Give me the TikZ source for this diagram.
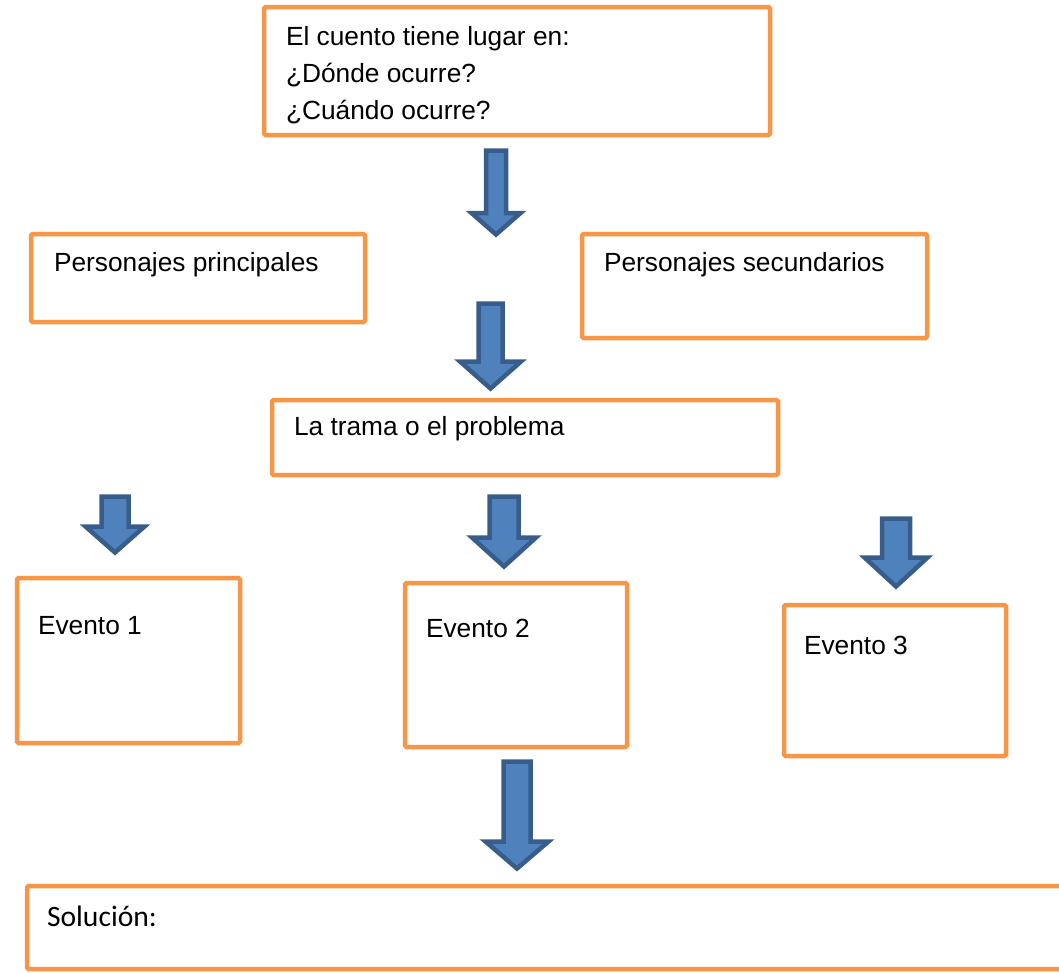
\documentclass[tikz,border=0pt]{standalone}
\usepackage{fontspec}
\setmainfont{Liberation Sans}
\newfontfamily\carlitofont{Carlito}
\definecolor{boxorange}{HTML}{F79646}
\definecolor{arrfill}{HTML}{4F81BD}
\definecolor{arrline}{HTML}{385D8A}
\tikzset{
  obox/.style={draw=boxorange, line width=4.5pt, rounded corners=1.5pt, fill=white,
               inner sep=0pt, outer sep=0pt, anchor=north west},
  otext/.style={inner sep=0pt, outer sep=0pt, anchor=base west,
                font=\fontsize{26.3}{37}\selectfont},
  stext/.style={inner sep=0pt, outer sep=0pt, anchor=base west,
                font=\carlitofont\fontsize{29.6}{36}\selectfont},
  barrow/.style={draw=arrline, fill=arrfill, line width=4.5pt, line join=miter},
}
\newcommand\blockarrow[6]{% cx, top, shaft half, head y, head half, tip y
  \draw[barrow] (#1-#3,#2) -- (#1+#3,#2) -- (#1+#3,#4) -- (#1+#5,#4) -- (#1,#6)
    -- (#1-#5,#4) -- (#1-#3,#4) -- cycle;}
\begin{document}
\begin{tikzpicture}[x=1pt,y=-1pt]
\useasboundingbox (0,0) rectangle (1059,972);
% boxes
\node[obox, minimum width=506pt, minimum height=128pt] (top) at (264,7) {};
\node[obox, minimum width=334pt, minimum height=88pt]  (pp)  at (31,234) {};
\node[obox, minimum width=345pt, minimum height=104pt] (ps)  at (582,234) {};
\node[obox, minimum width=506pt, minimum height=75pt]  (tr)  at (272,400) {};
\node[obox, minimum width=223pt, minimum height=165pt] (e1)  at (17,578) {};
\node[obox, minimum width=222pt, minimum height=164pt] (e2)  at (405,583) {};
\node[obox, minimum width=222pt, minimum height=151pt] (e3)  at (784,605) {};
\node[obox, minimum width=1060pt, minimum height=83pt] (sol) at (27,886) {};
% texts
\node[otext, anchor=north west, align=left] (ttop) at (286,26.2)
  {El cuento tiene lugar en:\\¿Dónde ocurre?\\¿Cuándo ocurre?};
\node[otext] (tpp) at (54,271) {Personajes principales};
\node[otext] (tps) at (604,271) {Personajes secundarios};
\node[otext] (ttr) at (294,435) {La trama o el problema};
\node[otext] (te1) at (38,634) {Evento 1};
\node[otext] (te2) at (426,637) {Evento 2};
\node[otext] (te3) at (804,654) {Evento 3};
\node[stext] (tsol) at (47,926) {Solución:};
% block arrows
\blockarrow{496}{150.5}{10}{213}{24.5}{234.5}
\blockarrow{490.5}{303.5}{12}{361.5}{30.5}{388.5}
\blockarrow{115}{496.5}{13.5}{526.5}{29.5}{552.5}
\blockarrow{504}{496.5}{14.5}{537.5}{32}{566.5}
\blockarrow{896}{518.5}{14}{557.5}{31.5}{586.5}
\blockarrow{517}{761.5}{13.5}{841.5}{31.5}{868.5}
\end{tikzpicture}
\end{document}
